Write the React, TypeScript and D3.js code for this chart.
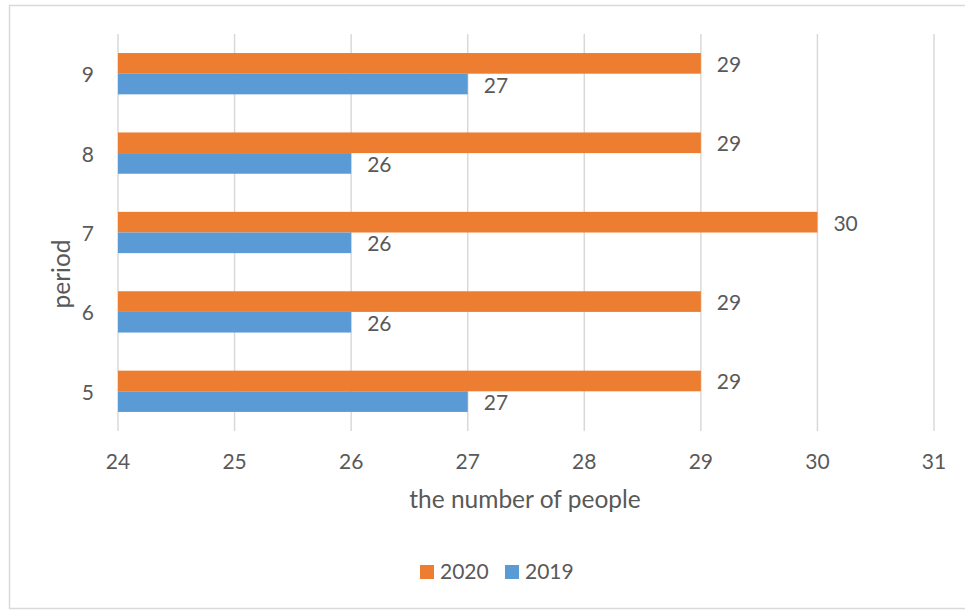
import React from "react";
import * as d3 from "d3";

const categories = ["9", "8", "7", "6", "5"];
const seriesNames = ["2020", "2019"];
const values2020 = [29, 29, 30, 29, 29];
const values2019 = [27, 26, 26, 26, 27];
const xTicks = [24, 25, 26, 27, 28, 29, 30, 31];
const colors = ["#ED7D31", "#5B9BD5"];

const W = 965;
const H = 610;
const FONT = "Lato, 'Open Sans', sans-serif";
const FS = 21;
const TFS = 24.5;
const TEXT = "#595959";

export default function App() {
  const x = d3.scaleLinear().domain([24, 31]).range([118, 934]);
  const y = d3
    .scaleBand<string>()
    .domain(categories)
    .range([34, 431])
    .paddingInner(0.48)
    .paddingOuter(0.24);
  const ys = d3
    .scaleBand<string>()
    .domain(seriesNames)
    .range([0, y.bandwidth()]);
  const seriesValues = [values2020, values2019];

  return (
    <div style={{ position: "absolute", left: 0, top: 0 }}>
      <svg width={W} height={H} style={{ display: "block", fontFamily: FONT }}>
        <rect x={0} y={0} width={W} height={H} fill="#fff" />
        <rect
          x={9.5}
          y={5.5}
          width={W}
          height={603}
          fill="none"
          stroke="#d9d9d9"
          strokeWidth={1.5}
        />
        {xTicks.map((t) => (
          <line
            key={t}
            x1={x(t)}
            x2={x(t)}
            y1={34}
            y2={431}
            stroke="#d9d9d9"
            strokeWidth={1.5}
          />
        ))}
        {seriesValues.map((vals, si) =>
          categories.map((c, ci) => {
            const y0 = (y(c) as number) + (ys(seriesNames[si]) as number);
            return (
              <g key={`${si}-${ci}`}>
                <rect
                  x={x(24)}
                  y={y0}
                  width={x(vals[ci]) - x(24)}
                  height={ys.bandwidth()}
                  fill={colors[si]}
                />
                <text
                  x={x(vals[ci]) + 16}
                  y={y0 + ys.bandwidth() / 2}
                  dominantBaseline="central"
                  fontSize={FS}
                  fill={TEXT}
                >
                  {vals[ci]}
                </text>
              </g>
            );
          })
        )}
        {xTicks.map((t) => (
          <text
            key={t}
            x={x(t)}
            y={469}
            textAnchor="middle"
            fontSize={FS}
            fill={TEXT}
          >
            {t}
          </text>
        ))}
        {categories.map((c) => (
          <text
            key={c}
            x={94}
            y={(y(c) as number) + y.bandwidth() / 2}
            textAnchor="end"
            dominantBaseline="central"
            fontSize={FS}
            fill={TEXT}
          >
            {c}
          </text>
        ))}
        <text
          x={525}
          y={508}
          textAnchor="middle"
          fontSize={TFS}
          fill={TEXT}
        >
          the number of people
        </text>
        <text
          transform={`translate(60,274) rotate(-90)`}
          textAnchor="middle"
          dominantBaseline="central"
          fontSize={TFS}
          fill={TEXT}
        >
          period
        </text>
        {seriesNames.map((s, i) => {
          const lx = [420, 505][i];
          return (
            <g key={s}>
              <rect x={lx} y={565} width={14} height={14} fill={colors[i]} />
              <text x={lx + 20} y={579} fontSize={FS} fill={TEXT}>
                {s}
              </text>
            </g>
          );
        })}
      </svg>
    </div>
  );
}
